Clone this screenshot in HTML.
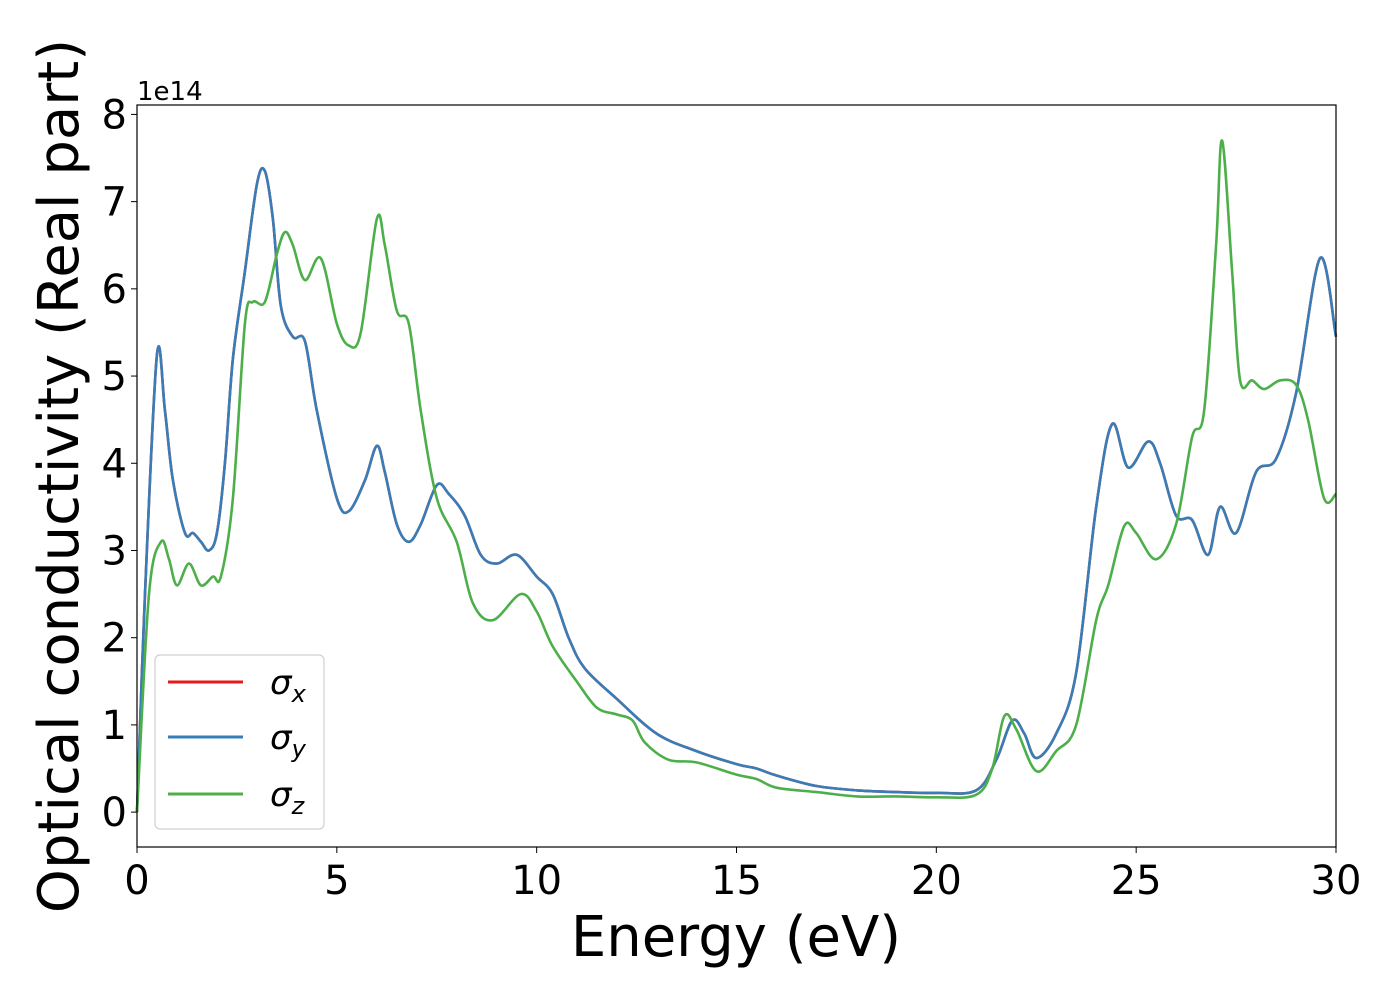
<!DOCTYPE html>
<html><head><meta charset="utf-8"><style>
html,body{margin:0;padding:0;background:#fff;}
svg{display:block;font-family:"DejaVu Sans","Liberation Sans",sans-serif;}
</style></head><body>
<svg id="chart" width="1400" height="1000" viewBox="0 0 1400 1000">
<rect x="0" y="0" width="1400" height="1000" fill="#fff"/>
<g id="series"></g>
<rect x="137" y="105" width="1199" height="742" fill="none" stroke="#000" stroke-width="1.2"/>
<g id="xticks"></g>
<g id="yticks"></g>
<text x="137" y="100" font-size="26">1e14</text>
<text x="736" y="956" font-size="56" text-anchor="middle">Energy (eV)</text>
<text transform="translate(78,476) rotate(-90)" font-size="56" text-anchor="middle">Optical conductivity (Real part)</text>
<g>
<rect x="155" y="655" width="169" height="174" rx="5" fill="#fff" fill-opacity="0.8" stroke="#d0d0d0" stroke-width="1.2"/>
<line x1="168" y1="682" x2="243" y2="682" stroke="#e41a1c" stroke-width="3"/>
<text x="270" y="694" font-size="34" font-style="italic">σ<tspan font-size="24" dy="8">x</tspan></text>
<line x1="168" y1="737" x2="243" y2="737" stroke="#377eb8" stroke-width="3"/>
<text x="270" y="749" font-size="34" font-style="italic">σ<tspan font-size="24" dy="8">y</tspan></text>
<line x1="168" y1="794" x2="243" y2="794" stroke="#4daf4a" stroke-width="3"/>
<text x="270" y="806" font-size="34" font-style="italic">σ<tspan font-size="24" dy="8">z</tspan></text>
</g>
</svg>
<script>
const energyXY=[0,0.2,0.5,0.7,0.9,1.2,1.4,1.6,1.8,2.0,2.2,2.4,2.7,3.0,3.2,3.4,3.6,3.9,4.2,4.5,5.0,5.3,5.7,6.0,6.2,6.5,6.8,7.1,7.5,7.8,8.2,8.6,9.0,9.5,10.0,10.4,10.8,11.2,12.0,13.0,14.0,15.0,15.5,16.0,17.0,18.0,19.0,20.0,21.0,21.5,21.9,22.2,22.5,23.0,23.5,24.0,24.4,24.8,25.3,25.6,26.0,26.4,26.8,27.1,27.5,28.0,28.5,29.0,29.6,30.0];
const sigmaXY=[0,2.5,5.25,4.6,3.8,3.2,3.2,3.1,3.0,3.2,4.0,5.2,6.2,7.2,7.35,6.8,5.8,5.45,5.4,4.6,3.6,3.45,3.8,4.2,3.9,3.3,3.1,3.3,3.75,3.65,3.4,2.95,2.85,2.95,2.7,2.5,2.0,1.65,1.3,0.9,0.7,0.55,0.5,0.42,0.3,0.25,0.23,0.22,0.25,0.6,1.05,0.9,0.62,0.9,1.6,3.5,4.45,3.95,4.25,4.0,3.4,3.35,2.95,3.5,3.2,3.9,4.05,4.8,6.35,5.45];
const energyZ=[0,0.3,0.6,0.8,1.0,1.3,1.6,1.9,2.1,2.4,2.7,2.9,3.2,3.5,3.7,3.9,4.2,4.6,5.0,5.3,5.6,6.0,6.2,6.5,6.8,7.1,7.5,8.0,8.4,8.9,9.6,10.0,10.4,11.0,11.5,12.0,12.4,12.7,13.3,14.0,15.0,15.5,16.0,17.0,18.0,19.0,20.0,21.0,21.4,21.7,22.0,22.5,23.0,23.5,24.0,24.3,24.7,25.0,25.5,26.0,26.4,26.7,27.0,27.15,27.4,27.6,27.9,28.2,28.6,29.0,29.3,29.7,30.0];
const sigmaZ=[0,2.5,3.1,2.9,2.6,2.85,2.6,2.7,2.7,3.6,5.6,5.85,5.85,6.4,6.65,6.5,6.1,6.35,5.6,5.35,5.5,6.8,6.5,5.75,5.6,4.6,3.6,3.1,2.4,2.2,2.5,2.3,1.9,1.5,1.2,1.12,1.05,0.8,0.6,0.57,0.43,0.38,0.28,0.23,0.18,0.18,0.17,0.2,0.5,1.1,0.95,0.47,0.7,1.0,2.2,2.6,3.28,3.2,2.9,3.3,4.3,4.6,6.5,7.7,6.2,4.95,4.95,4.85,4.95,4.9,4.5,3.6,3.65];
const xTicks=[0,5,10,15,20,25,30];
const yTicks=[0,1,2,3,4,5,6,7,8];
const NS="http://www.w3.org/2000/svg";
const xMin=0,xMax=30,yMin=-0.4,yMax=8.108;
const L=137,R=1336,T=105,B=847;
function sx(v){return L+(v-xMin)/(xMax-xMin)*(R-L);}
function sy(v){return B-(v-yMin)/(yMax-yMin)*(B-T);}
function pathFor(xs,ys){
  const p=xs.map((x,i)=>[sx(x),sy(ys[i])]);
  let d="M"+p[0][0].toFixed(1)+","+p[0][1].toFixed(1);
  for(let i=0;i<p.length-1;i++){
    const p0=p[i-1]||p[i],p1=p[i],p2=p[i+1],p3=p[i+2]||p2;
    const c1=[p1[0]+(p2[0]-p0[0])/6,p1[1]+(p2[1]-p0[1])/6];
    const c2=[p2[0]-(p3[0]-p1[0])/6,p2[1]-(p3[1]-p1[1])/6];
    d+="C"+c1[0].toFixed(1)+","+c1[1].toFixed(1)+" "+c2[0].toFixed(1)+","+c2[1].toFixed(1)+" "+p2[0].toFixed(1)+","+p2[1].toFixed(1);
  }
  return d;
}
const g=document.getElementById("series");
function addLine(xs,ys,color,name){
  const el=document.createElementNS(NS,"path");
  el.setAttribute("d",pathFor(xs,ys));
  el.setAttribute("fill","none");
  el.setAttribute("stroke",color);
  el.setAttribute("stroke-width","2.6");
  
  
  g.appendChild(el);
}
addLine(energyXY,sigmaXY,"#e41a1c","line-sigma-x");
addLine(energyXY,sigmaXY,"#377eb8","line-sigma-y");
addLine(energyZ,sigmaZ,"#4daf4a","line-sigma-z");
const xg=document.getElementById("xticks");
xTicks.forEach(v=>{
  const t=document.createElementNS(NS,"line");
  t.setAttribute("x1",sx(v));t.setAttribute("x2",sx(v));t.setAttribute("y1",B);t.setAttribute("y2",B+6);
  t.setAttribute("stroke","#000");
  
  
  xg.appendChild(t);
  const s=document.createElementNS(NS,"text");
  s.setAttribute("x",sx(v));s.setAttribute("y",B+47);s.setAttribute("font-size","40");s.setAttribute("text-anchor","middle");
  s.textContent=v;
  
  
  xg.appendChild(s);
});
const yg=document.getElementById("yticks");
yTicks.forEach(v=>{
  const t=document.createElementNS(NS,"line");
  t.setAttribute("x1",L-6);t.setAttribute("x2",L);t.setAttribute("y1",sy(v));t.setAttribute("y2",sy(v));
  t.setAttribute("stroke","#000");
  
  
  yg.appendChild(t);
  const s=document.createElementNS(NS,"text");
  s.setAttribute("x",L-10);s.setAttribute("y",sy(v)+14);s.setAttribute("font-size","40");s.setAttribute("text-anchor","end");
  s.textContent=v;
  
  
  yg.appendChild(s);
});
</script>
</body></html>
